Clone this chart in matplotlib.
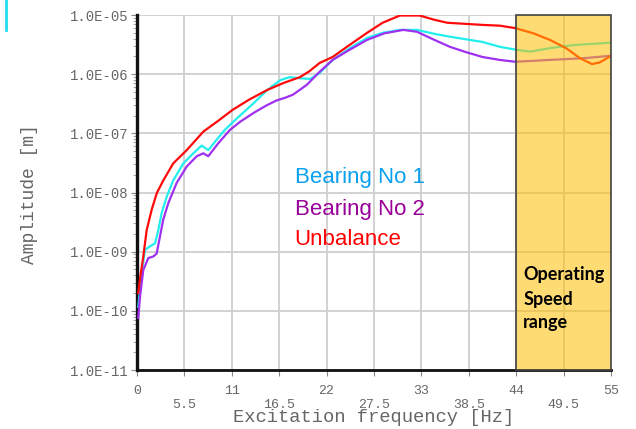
import numpy as np
import matplotlib
matplotlib.use("Agg")
import matplotlib.pyplot as plt
from matplotlib.patches import Rectangle
from matplotlib.lines import Line2D
from matplotlib.ticker import FixedLocator, LogLocator, NullFormatter

# frequency [Hz] / amplitude [m]
unb_f = [0.15, 0.35, 0.73, 1.12, 1.7, 2.3, 3.05, 4.2, 5.77, 7.7, 9.5, 11.1, 13.0, 15.1, 17.0,
         18.9, 20.0, 21.2, 22.7, 24.5, 26.7, 28.5, 30.5, 32.8, 34.5, 36.0, 40.1, 42.1, 43.9,
         46.0, 47.9, 49.8, 51.4, 52.8, 53.7, 54.9]
unb_a = [2.0e-10, 3.5e-10, 8.3e-10, 2.3e-09, 5.1e-09, 9.8e-09, 1.6e-08, 3.1e-08, 5.2e-08,
         1.07e-07, 1.66e-07, 2.5e-07, 3.7e-07, 5.4e-07, 7.1e-07, 8.9e-07, 1.12e-06, 1.55e-06,
         1.95e-06, 3.0e-06, 5.0e-06, 7.4e-06, 9.8e-06, 9.8e-06, 8.3e-06, 7.4e-06, 6.8e-06,
         6.6e-06, 6.0e-06, 4.9e-06, 3.8e-06, 2.75e-06, 1.86e-06, 1.48e-06, 1.58e-06, 2.0e-06]

b1_f = [0.15, 0.54, 0.93, 1.5, 2.09, 2.47, 2.86, 3.45, 4.2, 5.37, 6.54, 7.5, 8.27, 9.24, 10.2,
        11.5, 13.5, 15.0, 16.6, 17.7, 19.0, 20.1, 21.2, 22.7, 24.7, 26.7, 28.5, 30.5, 32.5,
        34.5, 36.3, 40.1, 42.1, 43.9, 45.6, 47.9, 50.6, 54.9]
b1_a = [1.17e-10, 4.4e-10, 1.07e-09, 1.23e-09, 1.38e-09, 2.3e-09, 4.5e-09, 8.5e-09, 1.6e-08,
        3.1e-08, 4.6e-08, 6.2e-08, 5.2e-08, 7.8e-08, 1.15e-07, 1.74e-07, 3.2e-07, 5.2e-07,
        7.9e-07, 8.9e-07, 8.5e-07, 8.3e-07, 1.05e-06, 1.74e-06, 2.75e-06, 4.1e-06, 5.0e-06,
        5.6e-06, 5.6e-06, 4.8e-06, 4.3e-06, 3.5e-06, 2.9e-06, 2.6e-06, 2.4e-06, 2.75e-06,
        3.1e-06, 3.4e-06]

b2_f = [0.15, 0.35, 0.73, 1.31, 1.9, 2.28, 2.67, 3.05, 3.63, 4.6, 5.77, 6.93, 7.7, 8.27, 9.43,
        10.8, 12.0, 13.5, 15.0, 16.2, 17.2, 18.1, 19.7, 21.2, 22.7, 24.7, 26.7, 28.7, 30.9,
        32.5, 34.5, 36.3, 38.2, 40.1, 42.1, 43.9, 47.9, 51.8, 54.9]
b2_a = [7.6e-11, 1.74e-10, 4.9e-10, 7.8e-10, 8.3e-10, 9.3e-10, 1.82e-09, 3.5e-09, 6.6e-09,
        1.45e-08, 2.75e-08, 4.1e-08, 4.6e-08, 4.1e-08, 6.8e-08, 1.15e-07, 1.58e-07, 2.2e-07,
        2.95e-07, 3.6e-07, 4.0e-07, 4.5e-07, 6.6e-07, 1.1e-06, 1.74e-06, 2.6e-06, 3.8e-06,
        4.9e-06, 5.6e-06, 5.2e-06, 3.8e-06, 2.9e-06, 2.35e-06, 1.95e-06, 1.74e-06, 1.62e-06,
        1.74e-06, 1.86e-06, 2.04e-06]

x_ticks = [0, 5.5, 11, 16.5, 22, 27.5, 33, 38.5, 44, 49.5, 55]
x_tick_labels = ["0", "5.5", "11", "16.5", "22", "27.5", "33", "38.5", "44", "49.5", "55"]
y_ticks = [1e-11, 1e-10, 1e-9, 1e-8, 1e-7, 1e-6, 1e-5]
y_tick_labels = ["1.0E-11", "1.0E-10", "1.0E-09", "1.0E-08", "1.0E-07", "1.0E-06", "1.0E-05"]
op_range = (44, 55)

W, H = 636, 429
fig = plt.figure(figsize=(W / 100, H / 100), dpi=100)
ax = fig.add_axes([137 / W, 1 - 370 / H, 474 / W, 355 / H])

ax.plot(b1_f, b1_a, color="#22EEEE", lw=1.6, zorder=3)
ax.plot(b2_f, b2_a, color="#A030F0", lw=1.6, zorder=3)
ax.plot(unb_f, unb_a, color="#FF0A0A", lw=1.6, zorder=4)

ax.set_yscale("log")
ax.set_xlim(0, 55)
ax.set_ylim(1e-11, 1e-5)

mono = "Liberation Mono"
grey = "#666666"
ax.xaxis.set_major_locator(FixedLocator(x_ticks))
# alternate labels drop one row like in the original
ax.set_xticklabels([lab if i % 2 == 0 else "\n" + lab for i, lab in enumerate(x_tick_labels)],
                   family=mono, fontsize=9.5, color=grey, linespacing=1.15)
ax.set_yticks(y_ticks)
ax.set_yticklabels(y_tick_labels, family=mono, fontsize=10, color=grey)
ax.yaxis.set_minor_locator(LogLocator(base=10, subs=np.arange(2, 10)))
ax.yaxis.set_minor_formatter(NullFormatter())
ax.tick_params(axis="both", which="major", length=4, width=0.8, color="#888888", pad=2)
ax.tick_params(axis="x", pad=7)
ax.tick_params(axis="y", which="minor", length=3, width=0.6, color="#999999")

ax.grid(True, which="major", color="#CFCFCF", lw=1.3)
ax.set_axisbelow(True)
for s in ["top", "right"]:
    ax.spines[s].set_visible(False)
ax.spines["left"].set_linewidth(2.4)
ax.spines["bottom"].set_linewidth(2.0)
ax.spines["left"].set_color("#111111")
ax.spines["bottom"].set_color("#111111")

# operating speed band on top of the curves
rect = Rectangle((op_range[0], 1e-11), op_range[1] - op_range[0], 1e-5 - 1e-11,
                 facecolor=(1.0, 0.75, 0.0, 0.55), edgecolor="#444444", lw=1.2,
                 zorder=5, clip_on=False)
ax.add_patch(rect)
for label, ly in [("Operating", -9.39), ("Speed", -9.80), ("range", -10.20)]:
    ax.text(44.8, 10 ** ly, label, fontsize=13, fontweight="bold",
            family=["Lato", "DejaVu Sans"], va="center", ha="left", zorder=6)

sans = ["Liberation Sans Narrow", "Liberation Sans", "DejaVu Sans"]
ax.text(18.3, 10 ** -7.75, "Bearing No 1", color="#0AA0F0", fontsize=16, family=sans, va="center")
ax.text(18.3, 10 ** -8.29, "Bearing No 2", color="#990099", fontsize=16, family=sans, va="center")
ax.text(18.3, 10 ** -8.80, "Unbalance", color="#FF0000", fontsize=16, family=sans, va="center")

fig.text(374 / W, 1 - 417 / H, "Excitation frequency [Hz]", family=mono, fontsize=13.5,
         color=grey, ha="center", va="center")
fig.text(30 / W, 1 - 194 / H, "Amplitude [m]", family=mono, fontsize=13, color=grey,
         rotation=90, ha="center", va="center")

# small cyan stroke in the top left corner of the source image
fig.add_artist(Line2D([6 / W, 6 / W], [1.0, 1 - 30 / H], color="#22DDEE", lw=2.0,
                      transform=fig.transFigure))

fig.savefig("out.png", dpi=100)
